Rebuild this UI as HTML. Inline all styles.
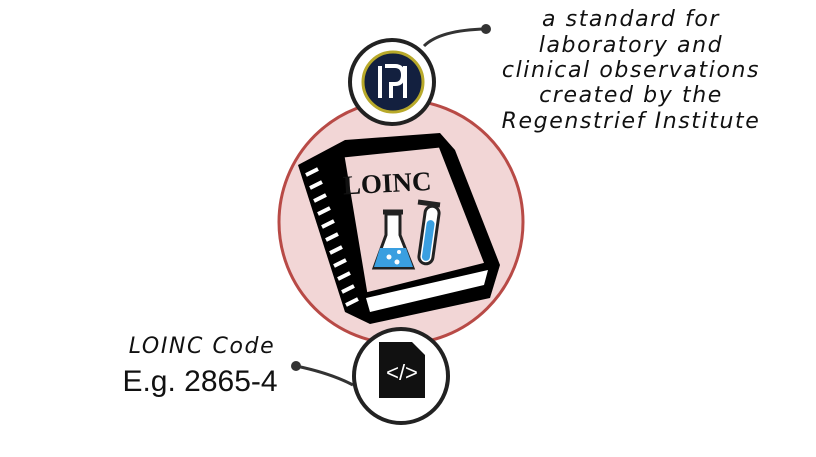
<!DOCTYPE html>
<html><head><meta charset="utf-8"><style>
html,body{margin:0;padding:0;background:#fff;}
body{width:816px;height:457px;overflow:hidden;position:relative;}
svg{position:absolute;left:0;top:0;}
</style></head><body>
<svg width="816" height="457" viewBox="0 0 816 457">
  <circle cx="401" cy="222" r="122" fill="#f2d6d6" stroke="#b84a46" stroke-width="3"/>
  <path d="M424 46 Q440 30 486 29" fill="none" stroke="#333" stroke-width="3"/>
  <circle cx="486" cy="29" r="5" fill="#333"/>
  <path d="M353 385 Q330 373 296 366" fill="none" stroke="#333" stroke-width="3"/>
  <circle cx="296" cy="366" r="5" fill="#333"/>
  <circle cx="392" cy="82" r="42" fill="#fff" stroke="#222" stroke-width="4"/>
  <circle cx="393" cy="82" r="30" fill="#13203f" stroke="#b8a92a" stroke-width="3"/>
  <path d="M380 66 v32 M405 66 v32" stroke="#fff" stroke-width="4"/>
  <path d="M385 66 h10 q8 0 8 9 q0 9 -8 9 h-4 v14" fill="none" stroke="#fff" stroke-width="4"/>
  <!-- book -->
  <g>
    <polygon points="298,165 345,140 440,133 455,150 500,265 490,298 370,324 345,312" fill="#000"/>
    <polygon points="343,156 440,146 486,264 366,294" fill="#f0d4d4" stroke="#000" stroke-width="3"/>
    <polygon points="366,298 488,270 484,285 370,312" fill="#fff"/>
    <g stroke="#fff" stroke-width="4">
      <line x1="306" y1="175" x2="318" y2="169"/><line x1="310" y1="188" x2="322" y2="182"/>
      <line x1="314" y1="201" x2="326" y2="195"/><line x1="318" y1="214" x2="330" y2="208"/>
      <line x1="322" y1="227" x2="334" y2="221"/><line x1="326" y1="240" x2="338" y2="234"/>
      <line x1="330" y1="253" x2="342" y2="247"/><line x1="334" y1="266" x2="346" y2="260"/>
      <line x1="338" y1="279" x2="350" y2="273"/><line x1="342" y1="292" x2="354" y2="286"/>
      <line x1="346" y1="305" x2="358" y2="299"/>
    </g>
    <text x="343" y="192" font-family="Liberation Serif, serif" font-weight="bold" font-size="27" fill="#111" transform="rotate(-3 390 185)">LOINC</text>
    <line x1="383" y1="212" x2="403" y2="212" stroke="#222" stroke-width="5"/>
    <polygon points="386,214 400,214 400,235 413,268 374,268 386,235" fill="#fff" stroke="#222" stroke-width="3"/>
    <polygon points="380,248 406,248 413,267 374,267" fill="#3a9fe0"/>
    <circle cx="389" cy="257" r="2.5" fill="#fff"/><circle cx="397" cy="262" r="2.5" fill="#fff"/><circle cx="399" cy="252" r="2" fill="#fff"/>
    <line x1="418" y1="202" x2="440" y2="205" stroke="#222" stroke-width="5"/>
    <rect x="422" y="206" width="14" height="58" rx="7" fill="#fff" stroke="#222" stroke-width="3" transform="rotate(8 429 235)"/>
    <rect x="425" y="220" width="8" height="41" rx="4" fill="#3a9fe0" transform="rotate(8 429 235)"/>
  </g>
  <circle cx="401" cy="376" r="47" fill="#fff" stroke="#222" stroke-width="4"/>
  <path d="M379 342 h33 l13 13 v43 h-46 z" fill="#111"/>
  <text x="402" y="380" text-anchor="middle" font-family="Liberation Sans, sans-serif" font-size="22" fill="#fff">&lt;/&gt;</text>
  <g font-family="'DejaVu Sans',sans-serif" font-style="italic" font-size="22" letter-spacing="1.6" fill="#111" text-anchor="middle">
    <text x="631" y="26">a standard for</text>
    <text x="631" y="52">laboratory and</text>
    <text x="631" y="77">clinical observations</text>
    <text x="631" y="102">created by the</text>
    <text x="631" y="128">Regenstrief Institute</text>
    <text x="202" y="353">LOINC Code</text>
  </g>
  <text x="200" y="391" text-anchor="middle" font-family="Liberation Sans, sans-serif" font-size="30" fill="#111">E.g. 2865-4</text>
</svg>
</body></html>
